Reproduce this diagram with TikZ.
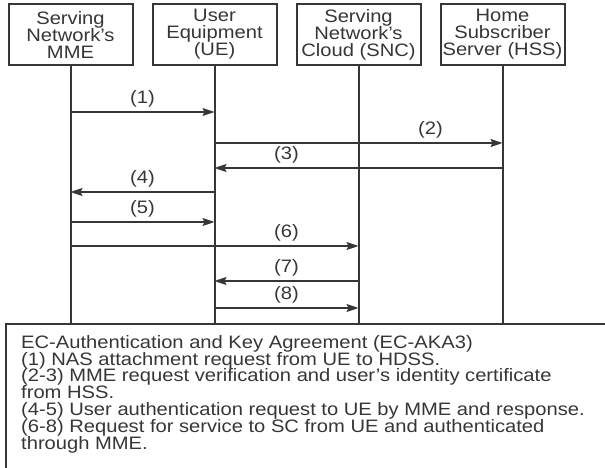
\documentclass[tikz,border=0pt]{standalone}
\usepackage{fontspec}
\setmainfont{Liberation Sans}[FakeStretch=1.12]
\usetikzlibrary{positioning,arrows.meta}
\definecolor{inkgray}{HTML}{363636}
\tikzset{
  actor box/.style={
    draw=inkgray,
    line width=2pt,
    minimum width={124pt},
    minimum height={61pt},
    inner sep=0pt,
    align=center,
    text=inkgray,
    font=\fontsize{18}{17}\selectfont,
  },
  lifeline/.style={
    draw=inkgray,
    line width=2pt,
  },
  message/.style={
    draw=inkgray,
    line width=1.6pt,
    -{Stealth[length=12pt,width=8pt,inset=2pt]},
  },
  step label/.style={
    above=4pt,
    inner sep=0pt,
    text=inkgray,
    font=\fontsize{18}{17}\selectfont,
  },
}

\begin{document}
\begin{tikzpicture}[x=1pt,y=-1pt]
        \clip (0,0) rectangle (605,468);

        \node [actor box] (mme) at (70.5,34.5) {Serving\\Network's\\MME};
        \node [actor box, right=18pt of mme] (ue) {User\\Equipment\\(UE)};
        \node [actor box, right=18pt of ue] (snc) {Serving\\Network's\\Cloud (SNC)};
        \node [actor box, right=18pt of snc] (hss) {Home\\Subscriber\\Server (HSS)};

        % legend frame runs off the page
        \coordinate (floor) at (6,324);
        \draw [draw=inkgray, line width=2pt] (floor) rectangle (640,500);
        \node [anchor=north west, inner sep=0pt, align=left, text=inkgray,
               font=\fontsize{18}{16.8}\selectfont] (notes) at (21,335)
          {EC-Authentication and Key Agreement (EC-AKA3)\\
           (1) NAS attachment request from UE to HDSS.\\
           (2-3) MME request verification and user's identity certificate\\
           from HSS.\\
           (4-5) User authentication request to UE by MME and response.\\
           (6-8) Request for service to SC from UE and authenticated\\
           through MME.};

        \draw [lifeline] (mme.south) -- (mme |- floor);
        \draw [lifeline] (ue.south) -- (ue |- floor);
        \draw [lifeline] (snc.south) -- (snc |- floor);
        \draw [lifeline] (hss.south) -- (hss |- floor);

        \coordinate (t1) at (0,112);
        \coordinate (t2) at (0,143);
        \coordinate (t3) at (0,168);
        \coordinate (t4) at (0,192);
        \coordinate (t5) at (0,222);
        \coordinate (t6) at (0,246);
        \coordinate (t7) at (0,281);
        \coordinate (t8) at (0,308);

        \draw [message] (mme |- t1) -- node [step label] {(1)} (ue |- t1);
        \draw [message] (ue |- t2) -- node [step label, pos=.75] {(2)} (hss |- t2);
        \draw [message] (hss |- t3) -- node [step label, pos=.75] {(3)} (ue |- t3);
        \draw [message] (ue |- t4) -- node [step label] {(4)} (mme |- t4);
        \draw [message] (mme |- t5) -- node [step label] {(5)} (ue |- t5);
        \draw [message] (mme |- t6) -- node [step label, pos=.75] {(6)} (snc |- t6);
        \draw [message] (snc |- t7) -- node [step label] {(7)} (ue |- t7);
        \draw [message] (ue |- t8) -- node [step label] {(8)} (snc |- t8);
      \end{tikzpicture}
\end{document}
